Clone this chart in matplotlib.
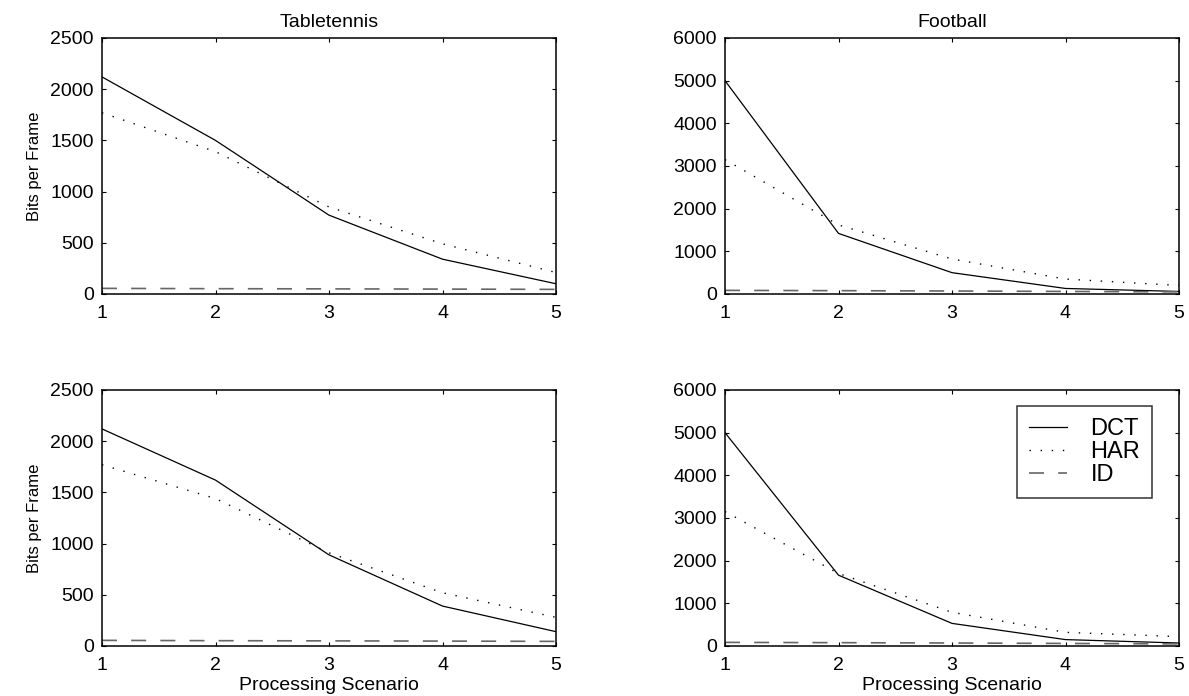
import matplotlib
matplotlib.use("Agg")
import matplotlib.pyplot as plt

plt.rcParams['font.family'] = ['Liberation Sans', 'DejaVu Sans']

# -----------------------------
#  Data
# -----------------------------
scenarios = [1, 2, 3, 4, 5]

tt_top_dct = [2120, 1500, 770, 340, 100]
tt_top_har = [1770, 1390, 850, 490, 210]
tt_top_id = [55, 52, 50, 48, 45]

fb_top_dct = [5000, 1420, 500, 130, 60]
fb_top_har = [3150, 1620, 820, 350, 200]
fb_top_id = [85, 78, 70, 60, 50]

tt_bot_dct = [2120, 1620, 890, 390, 140]
tt_bot_har = [1770, 1440, 910, 520, 280]
tt_bot_id = [55, 52, 50, 48, 45]

fb_bot_dct = [5000, 1660, 530, 150, 70]
fb_bot_har = [3150, 1700, 790, 320, 220]
fb_bot_id = [85, 78, 70, 60, 50]

labels = ['DCT', 'HAR', 'ID']

W, H = 1189, 696
fig = plt.figure(figsize=(W / 100, H / 100), dpi=100)


def make_axes(left, top, right, bottom):
    return fig.add_axes([left / W, 1 - bottom / H, (right - left) / W, (bottom - top) / H])


def draw_panel(ax, dct, har, ids, ymax, yticks):
    ax.plot(scenarios, dct, color='black', lw=0.9, ls='-', label=labels[0])
    ax.plot(scenarios, har, color='black', lw=1.0, ls=(0, (1, 7)), label=labels[1])
    ax.plot(scenarios, ids, color='#666666', lw=1.2, ls=(0, (9, 8.5)), label=labels[2])
    ax.set_xlim(1, 5)
    ax.set_ylim(0, ymax)
    ax.set_xticks(scenarios)
    ax.set_yticks(yticks)
    ax.tick_params(direction='in', top=True, right=True, labelsize=14, length=3, width=0.8)
    ax.tick_params(axis='x', pad=8)
    ax.tick_params(axis='y', pad=6)
    for s in ax.spines.values():
        s.set_linewidth(1.1)


ax1 = make_axes(102, 38, 556, 294)
draw_panel(ax1, tt_top_dct, tt_top_har, tt_top_id, 2500, range(0, 2501, 500))
ax1.set_title('Tabletennis', fontsize=14, pad=8)
ax1.set_ylabel('Bits per Frame', fontsize=12, labelpad=6)

ax2 = make_axes(725, 38, 1179, 294)
draw_panel(ax2, fb_top_dct, fb_top_har, fb_top_id, 6000, range(0, 6001, 1000))
ax2.set_title('Football', fontsize=14, pad=8)

ax3 = make_axes(102, 390, 556, 646)
draw_panel(ax3, tt_bot_dct, tt_bot_har, tt_bot_id, 2500, range(0, 2501, 500))
ax3.set_ylabel('Bits per Frame', fontsize=12, labelpad=6)
ax3.set_xlabel('Processing Scenario', fontsize=14, labelpad=2)

ax4 = make_axes(725, 390, 1179, 646)
draw_panel(ax4, fb_bot_dct, fb_bot_har, fb_bot_id, 6000, range(0, 6001, 1000))
ax4.set_xlabel('Processing Scenario', fontsize=14, labelpad=2)
leg = ax4.legend(loc='upper right', bbox_to_anchor=(0.9405, 0.9375), borderaxespad=0,
                 fontsize=17, frameon=True, fancybox=False, edgecolor='black',
                 handlelength=1.6, handletextpad=1.0, labelspacing=0.05,
                 borderpad=0.5)
leg.get_frame().set_linewidth(1.1)

fig.savefig('out.png', dpi=100)
